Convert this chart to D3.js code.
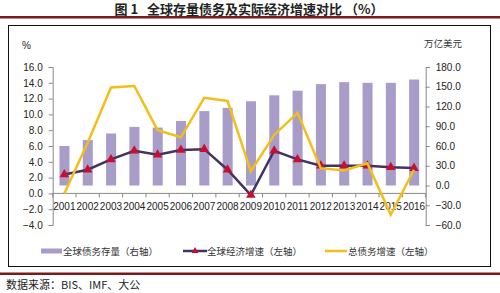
<!DOCTYPE html>
<html>
<head>
<meta charset="utf-8">
<script src="https://cdn.jsdelivr.net/npm/d3@7"></script>
<style>
  body { margin: 0; background: #fff; }
  svg { display: block; }
  text { font-family: "Liberation Sans", Arial, sans-serif; }
  .cjk { font-family: "Noto Sans CJK SC", "Noto Sans", sans-serif; }
</style>
</head>
<body>
<svg width="500" height="293"></svg>
<script>
// data
const years = ["2001","2002","2003","2004","2005","2006","2007","2008","2009","2010","2011","2012","2013","2014","2015","2016"];
const debtStock = [60, 69, 79, 89, 88, 98, 113, 118, 128, 137, 144, 154, 157, 156, 156, 161];      // 右轴, 万亿美元
const gdpGrowth = [2.4, 3.0, 4.3, 5.4, 4.9, 5.5, 5.6, 3.0, -0.2, 5.4, 4.3, 3.5, 3.5, 3.5, 3.3, 3.2]; // 左轴
const debtGrowth = [0.0, 6.4, 13.4, 13.6, 8.0, 7.1, 12.1, 11.7, 2.8, 7.4, 10.2, 3.2, 2.9, 3.8, -2.7, 3.0]; // 左轴
const leftTicks = [-4, -2, 0, 2, 4, 6, 8, 10, 12, 14, 16];
const rightTicks = [-60, -30, 0, 30, 60, 90, 120, 150, 180];
const legendNames = ["全球债务存量（右轴）", "全球经济增速（左轴）", "总债务增速（左轴）"];

const barColor = "#a89cc9", lineColor = "#403466", yellow = "#f2bf1a", red = "#c8102e";

const svg = d3.select("svg");

// title + rules
svg.append("text").attr("class", "cjk")
  .attr("x", 249).attr("y", 14).attr("text-anchor", "middle")
  .attr("font-size", 13).attr("font-weight", "bold").attr("fill", "#222")
  .text("图 1\u00a0\u00a0\u00a0全球存量债务及实际经济增速对比 （%）");
svg.append("rect").attr("x", 0).attr("y", 16).attr("width", 500).attr("height", 2.5).attr("fill", "#7a1a1a");
svg.append("rect").attr("x", 8.5).attr("y", 25.5).attr("width", 482).attr("height", 241)
  .attr("fill", "none").attr("stroke", "#111").attr("stroke-width", 1);
svg.append("rect").attr("x", 0).attr("y", 272.5).attr("width", 500).attr("height", 2.5).attr("fill", "#7a1a1a");
svg.append("text").attr("class", "cjk")
  .attr("x", 6).attr("y", 289).attr("font-size", 11).attr("fill", "#222")
  .text("数据来源：BIS、IMF、大公");

// scales
const x = d3.scaleBand().domain(years).range([52.7, 425.7]);
const yL = d3.scaleLinear().domain([-4, 16]).range([225, 67]);
const yR = d3.scaleLinear().domain([-60, 180]).range([225, 67]);

// bars
svg.append("g").selectAll("rect").data(debtStock).enter().append("rect")
  .attr("x", (d, i) => x(years[i]) + x.bandwidth() * 0.29)
  .attr("width", x.bandwidth() * 0.43)
  .attr("y", d => yR(d))
  .attr("height", d => yR(0) - yR(d))
  .attr("fill", barColor);

// axes
const axisL = svg.append("g").attr("transform", "translate(52.7,0)")
  .call(d3.axisLeft(yL).tickValues(leftTicks).tickFormat(d3.format(".1f")).tickSize(4).tickPadding(6));
const axisR = svg.append("g").attr("transform", "translate(425.7,0)")
  .call(d3.axisRight(yR).tickValues(rightTicks).tickFormat(d3.format(".1f")).tickSize(4).tickPadding(6));
[axisL, axisR].forEach(a => {
  a.selectAll("path, line").attr("stroke", "#888");
  a.selectAll("text").attr("font-size", 10).attr("fill", "#222");
});

// x axis at left zero
const xg = svg.append("g").attr("transform", "translate(0," + yL(0) + ")");
xg.append("line").attr("x1", 52.7).attr("x2", 425.7).attr("stroke", "#888");
xg.selectAll("line.tk").data(years.concat(["end"])).enter().append("line").attr("class", "tk")
  .attr("x1", (d, i) => 52.7 + i * x.bandwidth()).attr("x2", (d, i) => 52.7 + i * x.bandwidth())
  .attr("y1", 0).attr("y2", 4).attr("stroke", "#888");
xg.selectAll("text").data(years).enter().append("text")
  .attr("x", d => x(d) + x.bandwidth() / 2).attr("y", 16.5)
  .attr("text-anchor", "middle").attr("font-size", 10).attr("fill", "#222")
  .text(d => d);

// unit labels
svg.append("text").attr("x", 22).attr("y", 49).attr("font-size", 10).attr("fill", "#222").text("%");
svg.append("text").attr("class", "cjk").attr("x", 443).attr("y", 47).attr("text-anchor", "middle")
  .attr("font-size", 9.5).attr("fill", "#333").text("万亿美元");

// growth line with triangles
const cx = i => x(years[i]) + x.bandwidth() / 2;
const lineL = d3.line().x((d, i) => cx(i)).y(d => yL(d));
svg.append("path").datum(gdpGrowth).attr("d", lineL)
  .attr("fill", "none").attr("stroke", lineColor).attr("stroke-width", 2.5);
svg.append("g").selectAll("path").data(gdpGrowth).enter().append("path")
  .attr("d", d3.symbol().type(d3.symbolTriangle).size(40))
  .attr("transform", (d, i) => "translate(" + cx(i) + "," + yL(d) + ")")
  .attr("fill", red);

// total debt growth line
svg.append("path").datum(debtGrowth).attr("d", lineL)
  .attr("fill", "none").attr("stroke", yellow).attr("stroke-width", 2.5);

// legend
const lg = svg.append("g").attr("transform", "translate(0,251)");
lg.append("rect").attr("x", 41).attr("y", -2.5).attr("width", 21).attr("height", 5).attr("fill", barColor);
lg.append("line").attr("x1", 183).attr("x2", 207).attr("stroke", lineColor).attr("stroke-width", 2.5);
lg.append("path").attr("d", d3.symbol().type(d3.symbolTriangle).size(20)).attr("transform", "translate(195,0)").attr("fill", red);
lg.append("line").attr("x1", 325).attr("x2", 347).attr("stroke", yellow).attr("stroke-width", 2.5);
[63, 207, 348].forEach((lx, i) => {
  lg.append("text").attr("class", "cjk").attr("x", lx).attr("y", 3.5)
    .attr("font-size", 9.5).attr("fill", "#333").text(legendNames[i]);
});
</script>
</body>
</html>
